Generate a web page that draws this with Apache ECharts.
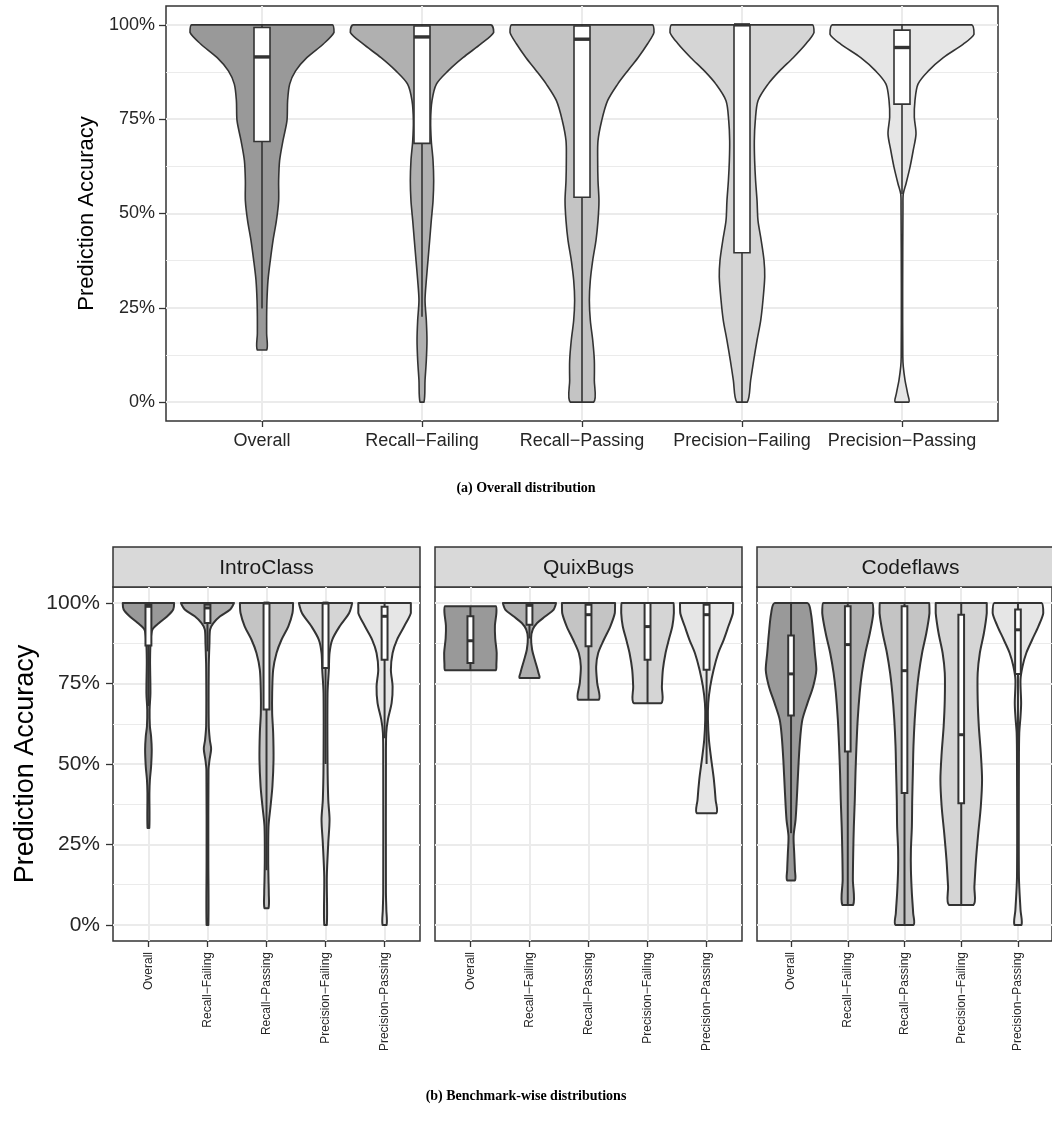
<!DOCTYPE html>
<html><head><meta charset="utf-8">
<script src="https://cdn.jsdelivr.net/npm/echarts@6/dist/echarts.min.js"></script>
<style>html,body{margin:0;padding:0;background:#fff}#c{width:1052px;height:1137px}</style>
</head><body><div id="c"></div>
<script>
// ---------------- DATA ----------------
const categories = ['Overall', 'Recall\u2212Failing', 'Recall\u2212Passing', 'Precision\u2212Failing', 'Precision\u2212Passing'];
const benchmarks = ['IntroClass', 'QuixBugs', 'Codeflaws'];
const yTicks = [0, 25, 50, 75, 100];
const yMinorTicks = [12.5, 37.5, 62.5, 87.5];
const catTicks = [0, 1, 2, 3, 4];

// violin profiles: [accuracy %, half-width in category units]
// (a) overall
const all_Overall = [[100,0.44],[98,0.45],[95,0.385],[91.3,0.28],[87.8,0.21],[84.3,0.173],[79.9,0.16],[74.6,0.156],[69.3,0.131],[64,0.11],[58.7,0.104],[53.4,0.104],[48.1,0.09],[42.9,0.069],[37.6,0.052],[32.3,0.0375],[27,0.031],[22.6,0.029],[18.2,0.029],[13.8,0.029]];
const all_RecallFailing = [[100,0.43],[98,0.448],[95,0.37],[91.3,0.256],[87.8,0.163],[84.3,0.09],[79.9,0.0625],[74.6,0.054],[69.3,0.058],[64,0.069],[58.7,0.073],[53.4,0.069],[48.1,0.058],[42.9,0.048],[37.6,0.0375],[32.3,0.027],[27,0.019],[21.7,0.027],[16.4,0.031],[11.1,0.027],[5.8,0.019],[0,0.0125]];
const all_RecallPassing = [[100,0.44],[98,0.45],[95,0.41],[91.3,0.35],[87.8,0.285],[84.3,0.223],[79.9,0.16],[74.6,0.123],[69.3,0.1],[64,0.098],[58.7,0.1],[53.4,0.106],[48.1,0.1],[42.9,0.0875],[37.6,0.067],[32.3,0.052],[27,0.046],[21.7,0.052],[16.4,0.067],[11.1,0.077],[5.8,0.077],[0,0.073]];
const all_PrecisionFailing = [[100,0.44],[98,0.45],[95,0.4],[91.3,0.32],[87.8,0.235],[84.3,0.163],[79.9,0.1],[74.6,0.083],[69.3,0.077],[64,0.079],[58.7,0.085],[53.4,0.094],[48.1,0.1],[42.9,0.12],[37.6,0.1375],[33.2,0.142],[27,0.131],[21.7,0.117],[16.4,0.094],[11.1,0.073],[5.8,0.054],[0,0.033]];
const all_PrecisionPassing = [[100,0.435],[97.5,0.45],[94.9,0.383],[91.3,0.258],[87.8,0.165],[84.3,0.1],[79.9,0.081],[75.5,0.077],[71.1,0.0875],[66.7,0.07],[62.3,0.05],[57.9,0.025],[55.2,0.008],[51.7,0.006],[30,0.004],[12,0.005],[9.4,0.008],[5.8,0.019],[2.3,0.035],[0,0.042]];
// box stats: [lower whisker, Q1, median, Q3, upper whisker]
const all_Boxes = [[24.8,69.1,91.5,99.3,100],[22.6,68.6,96.8,99.7,100],[0,54.3,96.2,99.7,100],[0,39.6,100,100,100],[55.2,79,94,98.6,100]];

// (b) IntroClass
const intro_Overall = [[100,0.435],[98,0.42],[95.9,0.32],[93.8,0.18],[91.8,0.068],[88.6,0.04],[82.4,0.028],[72,0.034],[66.9,0.02],[61.7,0.025],[58.6,0.045],[54.4,0.056],[49.2,0.045],[45.1,0.025],[41,0.017],[30.1,0.015]];
const intro_RecallFailing = [[100,0.45],[98,0.385],[95.9,0.215],[93.8,0.1],[91.8,0.045],[87.6,0.034],[80,0.022],[62,0.022],[57.5,0.04],[54.7,0.062],[51.3,0.035],[48,0.018],[20,0.015],[0,0.015]];
const intro_RecallPassing = [[100,0.45],[96.9,0.44],[92.8,0.37],[88.6,0.254],[84.5,0.17],[79.3,0.113],[72.1,0.096],[65.8,0.096],[59.6,0.113],[51.3,0.119],[43,0.1],[36.8,0.068],[30.6,0.034],[20.2,0.029],[14,0.034],[9.8,0.039],[5.2,0.034]];
const intro_PrecisionFailing = [[100,0.45],[96.9,0.4],[92.8,0.24],[88.6,0.113],[84.5,0.068],[79.3,0.056],[72,0.034],[50,0.034],[38.9,0.046],[32.7,0.068],[25.4,0.046],[15,0.022],[0,0.022]];
const intro_PrecisionPassing = [[100,0.445],[96.9,0.445],[92.8,0.333],[88.6,0.21],[84.5,0.136],[79.3,0.107],[74.1,0.136],[68.9,0.119],[63.8,0.056],[59.6,0.028],[50,0.023],[10,0.023],[4.7,0.03],[0,0.034]];
const intro_Boxes = [[68,86.8,99,99.5,100],[85,93.8,98.5,99.5,100],[17,66.9,100,100,100],[50,79.8,100,100,100],[58,82.4,95.9,98.9,100]];

// (b) QuixBugs
const quix_Overall = [[99,0.43],[97,0.44],[93,0.415],[89,0.42],[84.5,0.445],[81,0.44],[79.1,0.43]];
const quix_RecallFailing = [[100,0.45],[98,0.41],[95.9,0.27],[93.8,0.13],[91.8,0.056],[89.2,0.028],[85.5,0.045],[82.4,0.09],[78.3,0.153],[76.7,0.164]];
const quix_RecallPassing = [[100,0.45],[96.9,0.446],[92.8,0.37],[88.6,0.26],[84.5,0.164],[80.3,0.13],[75.2,0.147],[70,0.175]];
const quix_PrecisionFailing = [[100,0.44],[96.9,0.446],[92.8,0.42],[88.6,0.36],[84.5,0.305],[79.3,0.26],[74.1,0.243],[68.9,0.232]];
const quix_PrecisionPassing = [[100,0.45],[96.9,0.446],[92.8,0.37],[88.6,0.29],[84.5,0.198],[79.3,0.119],[74.1,0.062],[68.9,0.028],[63.8,0.023],[57.5,0.04],[51.3,0.08],[45.1,0.124],[38.9,0.153],[34.7,0.164]];
const quix_Boxes = [[79.1,81.4,88.3,95.9,99],[89,93.3,99.3,99.7,100],[70,86.6,96.4,99.5,100],[68.9,82.4,92.7,100,100],[50,79.3,96.4,99.5,100]];

// (b) Codeflaws
const code_Overall = [[100,0.29],[96.9,0.35],[90.7,0.39],[84.5,0.42],[79.3,0.446],[74.1,0.39],[68.9,0.29],[63.8,0.2],[58.6,0.164],[51.3,0.136],[41,0.107],[32.7,0.08],[27.5,0.045],[22.3,0.056],[17.1,0.068],[13.8,0.068]];
const code_RecallFailing = [[100,0.435],[96.9,0.45],[90.7,0.39],[84.5,0.31],[78.3,0.25],[72.1,0.21],[63.8,0.175],[55.5,0.153],[47.2,0.136],[38.9,0.124],[30.6,0.107],[22.3,0.096],[14,0.09],[6.2,0.096]];
const code_RecallPassing = [[100,0.435],[96.9,0.44],[90.7,0.385],[84.5,0.31],[78.3,0.254],[72.1,0.215],[63.8,0.18],[55.5,0.158],[47.2,0.147],[38.9,0.136],[30.6,0.13],[23.3,0.113],[17.1,0.113],[9.8,0.13],[3.6,0.153],[0,0.158]];
const code_PrecisionFailing = [[100,0.45],[96.9,0.45],[90.7,0.4],[84.5,0.328],[78.3,0.29],[70,0.29],[61.7,0.31],[53.4,0.345],[45.1,0.367],[36.8,0.345],[28.5,0.3],[20.2,0.26],[11.9,0.232],[6.2,0.215]];
const code_PrecisionPassing = [[100,0.42],[96.9,0.446],[92.8,0.36],[88.6,0.25],[84.5,0.147],[80.3,0.08],[76.2,0.045],[68.9,0.056],[64.8,0.045],[59.6,0.023],[50,0.017],[15,0.017],[4.7,0.045],[0,0.062]];
const code_Boxes = [[28.5,65.1,78,89.9,100],[6.2,53.9,87.1,99,100],[0,41,79,99,100],[6.2,37.8,59.1,96.4,100],[48,78,91.7,98,100]];

const fills = ['#999999', '#B0B0B0', '#C4C4C4', '#D5D5D5', '#E6E6E6'];

// ---------------- CHART ----------------
const panels = [
  {profiles: [all_Overall, all_RecallFailing, all_RecallPassing, all_PrecisionFailing, all_PrecisionPassing], boxes: all_Boxes, lw: 1.6, medLw: 3.4},
  {profiles: [intro_Overall, intro_RecallFailing, intro_RecallPassing, intro_PrecisionFailing, intro_PrecisionPassing], boxes: intro_Boxes, lw: 2, medLw: 3},
  {profiles: [quix_Overall, quix_RecallFailing, quix_RecallPassing, quix_PrecisionFailing, quix_PrecisionPassing], boxes: quix_Boxes, lw: 2, medLw: 3},
  {profiles: [code_Overall, code_RecallFailing, code_RecallPassing, code_PrecisionFailing, code_PrecisionPassing], boxes: code_Boxes, lw: 2, medLw: 3}
];

const FONT = '"Liberation Sans", Arial, Helvetica, sans-serif';
const gridLine = '#EBEBEB';
const ink = '#333333';
const labelCol = '#262626';

const grids = [
  {left: 166, top: 6, width: 832, height: 415},
  {left: 113, top: 587, width: 307, height: 354},
  {left: 435, top: 587, width: 307, height: 354},
  {left: 757, top: 587, width: 307, height: 354}
].map(g => Object.assign(g, {show: true, borderColor: ink, borderWidth: 1.5, backgroundColor: '#fff', containLabel: false}));

const xAxes = grids.map((g, gi) => ({
  type: 'value', gridIndex: gi, min: -0.6, max: 4.6, position: 'bottom',
  axisLine: {show: false, onZero: false},
  axisTick: {show: true, customValues: catTicks, length: 6, lineStyle: {color: ink, width: 1.3}},
  axisLabel: {show: true, customValues: catTicks, formatter: v => categories[Math.round(v)],
    fontSize: gi === 0 ? 18 : 12, rotate: gi === 0 ? 0 : 90, margin: gi === 0 ? 11 : 11,
    color: labelCol, fontFamily: FONT},
  splitLine: {show: true, lineStyle: {color: gridLine, width: 2}}
}));

const yAxes = [];
grids.forEach((g, gi) => {
  const first = gi <= 1;
  yAxes.push({
    type: 'value', gridIndex: gi, min: -5, max: 105, position: 'left',
    axisLine: {show: false, onZero: false},
    axisTick: {show: first, customValues: yTicks, length: 7, lineStyle: {color: ink, width: 1.3}},
    axisLabel: {show: first, customValues: yTicks, formatter: v => v + '%', fontSize: gi === 0 ? 18 : 21,
      margin: gi === 0 ? 11 : 13, color: labelCol, fontFamily: FONT},
    splitLine: {show: true, lineStyle: {color: gridLine, width: 2}},
    name: first ? 'Prediction Accuracy' : '', nameLocation: 'middle', nameGap: gi === 0 ? 57 : 74,
    nameTextStyle: {fontSize: gi === 0 ? 22 : 27, color: '#000', fontFamily: FONT}
  });
  yAxes.push({
    type: 'value', gridIndex: gi, min: -5, max: 105, position: 'left',
    axisLine: {show: false, onZero: false},
    axisTick: {show: false, customValues: yMinorTicks},
    axisLabel: {show: false},
    splitLine: {show: true, lineStyle: {color: gridLine, width: 1}}
  });
});

function bbox(pts) {
  let x0 = Infinity, y0 = Infinity, x1 = -Infinity, y1 = -Infinity;
  pts.forEach(q => { x0 = Math.min(x0, q[0]); y0 = Math.min(y0, q[1]); x1 = Math.max(x1, q[0]); y1 = Math.max(y1, q[1]); });
  return [[x0, y0], [x1, y1]];
}

const series = panels.map((p, gi) => ({
  type: 'custom', xAxisIndex: gi, yAxisIndex: gi * 2,
  data: catTicks.map(i => [i, 50]),
  encode: {x: 0, y: 1},
  z: 5,
  renderItem: (params, api) => {
    const i = Math.round(api.value(0));
    const prof = p.profiles[i];
    const right = prof.map(q => api.coord([i + q[1], q[0]]));
    const left = prof.slice().reverse().map(q => api.coord([i - q[1], q[0]]));
    const pts = right.concat(left);
    const b = p.boxes[i];
    const bw = 0.05;
    const tl = api.coord([i - bw, b[3]]), br = api.coord([i + bw, b[1]]);
    const m1 = api.coord([i - bw, b[2]]), m2 = api.coord([i + bw, b[2]]);
    const wt1 = api.coord([i, b[4]]), wt2 = api.coord([i, b[3]]);
    const wb1 = api.coord([i, b[1]]), wb2 = api.coord([i, b[0]]);
    return {type: 'group', children: [
      {type: 'polygon', shape: {points: pts, smooth: 0.3, smoothConstraint: bbox(pts)},
        style: {fill: fills[i], stroke: ink, lineWidth: p.lw, lineJoin: 'round'}},
      {type: 'line', shape: {x1: wt1[0], y1: wt1[1], x2: wt2[0], y2: wt2[1]}, style: {stroke: ink, lineWidth: p.lw}},
      {type: 'line', shape: {x1: wb1[0], y1: wb1[1], x2: wb2[0], y2: wb2[1]}, style: {stroke: ink, lineWidth: p.lw}},
      {type: 'rect', shape: {x: tl[0], y: tl[1], width: br[0] - tl[0], height: br[1] - tl[1]},
        style: {fill: '#ffffff', stroke: ink, lineWidth: p.lw}},
      {type: 'line', shape: {x1: m1[0], y1: m1[1], x2: m2[0], y2: m2[1]}, style: {stroke: ink, lineWidth: p.medLw}}
    ]};
  }
}));

const strips = benchmarks.map((name, k) => ({
  type: 'group', x: grids[k + 1].left, y: 547,
  children: [
    {type: 'rect', shape: {x: 0, y: 0, width: grids[k + 1].width, height: 40},
      style: {fill: '#D9D9D9', stroke: ink, lineWidth: 1.5}},
    {type: 'text', x: grids[k + 1].width / 2, y: 21,
      style: {text: name, align: 'center', verticalAlign: 'middle', textAlign: 'center', textVerticalAlign: 'middle',
        font: '21px "Liberation Sans", Arial, sans-serif', fill: '#1A1A1A'}}
  ]
}));

const chart = echarts.init(document.getElementById('c'), null, {renderer: 'canvas'});
chart.setOption({
  animation: false,
  backgroundColor: '#ffffff',
  textStyle: {fontFamily: FONT},
  title: [
    {text: '(a) Overall distribution', left: 'center', top: 481, padding: 0,
      textStyle: {fontFamily: '"Liberation Serif", "DejaVu Serif", serif', fontWeight: 'bold', fontSize: 14, color: '#000'}},
    {text: '(b) Benchmark-wise distributions', left: 'center', top: 1089, padding: 0,
      textStyle: {fontFamily: '"Liberation Serif", "DejaVu Serif", serif', fontWeight: 'bold', fontSize: 14, color: '#000'}}
  ],
  grid: grids,
  xAxis: xAxes,
  yAxis: yAxes,
  series: series,
  graphic: strips
});
</script>
</body></html>
